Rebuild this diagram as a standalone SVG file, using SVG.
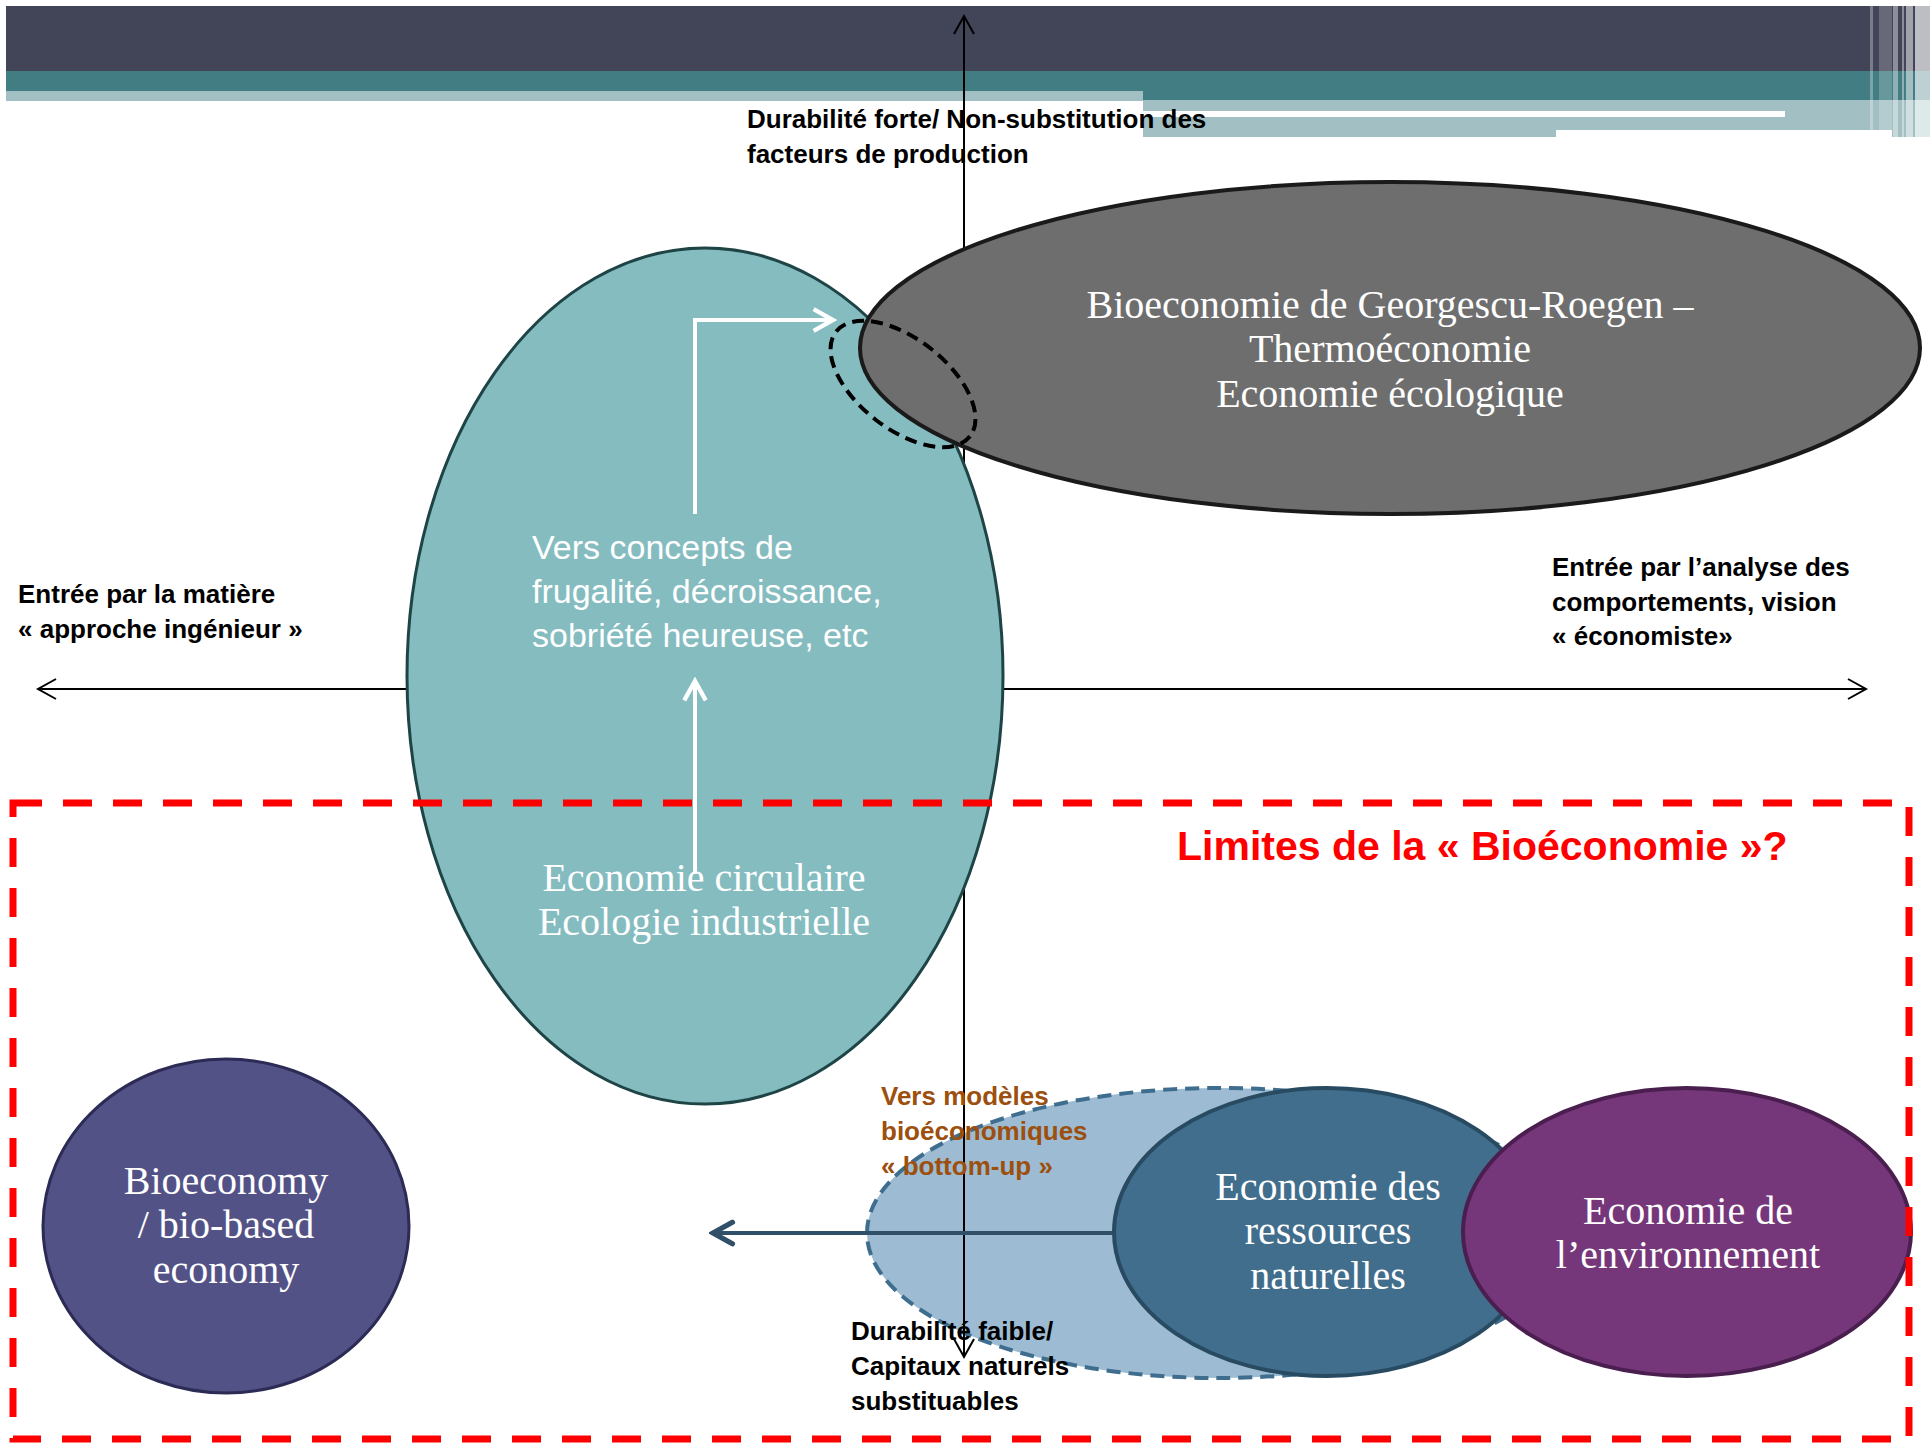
<svg xmlns="http://www.w3.org/2000/svg" width="1930" height="1445" viewBox="0 0 1930 1445">
  <defs>
    <style>
      .lbl { font-family: "Liberation Sans", Arial, sans-serif; font-weight: bold; font-size: 26px; fill: #000; }
      .brown { fill: #9C4F0E; }
      .ser { font-family: "Liberation Serif", "Times New Roman", serif; font-size: 40px; fill: #fff; text-anchor: middle; }
      .sans { font-family: "Liberation Sans", Arial, sans-serif; font-size: 34px; fill: #fff; }
      .title { font-family: "Liberation Sans", Arial, sans-serif; font-weight: bold; font-size: 41px; fill: #FF0000; }
      .axis { stroke: #000; stroke-width: 2; fill: none; }
      .wArrow { stroke: #fff; stroke-width: 4; fill: none; }
    </style>
    <marker id="openBlack" markerUnits="userSpaceOnUse" markerWidth="24" markerHeight="24" viewBox="-20 -12 22 24" refX="0" refY="0" orient="auto-start-reverse">
      <path d="M -18 -10 L 0 0 L -18 10" fill="none" stroke="#000" stroke-width="2"/>
    </marker>
    <marker id="openWhite" markerUnits="userSpaceOnUse" markerWidth="28" markerHeight="28" viewBox="-22 -13 25 26" refX="0" refY="0" orient="auto">
      <path d="M -18 -10 L 0 0 L -18 10" fill="none" stroke="#fff" stroke-width="4"/>
    </marker>
    <marker id="openBlue" markerUnits="userSpaceOnUse" markerWidth="28" markerHeight="28" viewBox="-22 -13 25 26" refX="0" refY="0" orient="auto">
      <path d="M -18 -10 L 0 0 L -18 10" fill="none" stroke="#2F5068" stroke-width="5" stroke-linecap="round"/>
    </marker>
  </defs>

  <rect width="1930" height="1445" fill="#fff"/>

  <!-- Header bands -->
  <g id="header">
    <rect x="6" y="6" width="1924" height="65" fill="#424458"/>
    <rect x="6" y="71" width="1924" height="29" fill="#437D84"/>
    <rect x="6" y="91" width="1137" height="10" fill="#A2BFC3"/>
    <rect x="1143" y="100" width="787" height="37" fill="#A2BFC3"/>
    <rect x="1143" y="111" width="642" height="6" fill="#fff"/>
    <rect x="1556" y="130" width="336" height="7" fill="#fff"/>
    <rect x="1870" y="6" width="3" height="131" fill="#fff" opacity="0.3"/>
    <rect x="1879" y="6" width="13" height="131" fill="#fff" opacity="0.2"/>
    <rect x="1893" y="6" width="5" height="131" fill="#fff" opacity="0.4"/>
    <rect x="1902" y="6" width="2" height="131" fill="#fff" opacity="0.4"/>
    <rect x="1906" y="6" width="7" height="131" fill="#fff" opacity="0.5"/>
    <rect x="1915" y="6" width="15" height="131" fill="#fff" opacity="0.65"/>
  </g>

  <!-- Light blue zone behind the natural-resources node -->
  <g id="zone-bottom-up">
    <ellipse cx="1219" cy="1233" rx="352" ry="145" fill="#9DBCD3" stroke="#3E6D8E" stroke-width="4" stroke-dasharray="14 8"/>
  </g>

  <!-- Axes and arrows -->
  <g id="connectors">
    <line class="axis" x1="964" y1="16" x2="964" y2="1357" marker-start="url(#openBlack)" marker-end="url(#openBlack)"/>
    <line class="axis" x1="38" y1="689" x2="1866" y2="689" marker-start="url(#openBlack)" marker-end="url(#openBlack)"/>
    <line x1="1114" y1="1233" x2="713" y2="1233" stroke="#2F5068" stroke-width="4" marker-end="url(#openBlue)"/>
  </g>

  <g id="node-circulaire">
    <ellipse cx="705" cy="676" rx="298" ry="428" fill="#84BCC0" stroke="#1E4446" stroke-width="3"/>
  </g>

  <g id="node-georgescu">
    <ellipse cx="1390" cy="348" rx="530" ry="166" fill="#6E6E6E" stroke="#1A1A1A" stroke-width="4"/>
    <text class="ser" x="1390" y="318">Bioeconomie de Georgescu-Roegen –</text>
    <text class="ser" x="1390" y="362">Thermoéconomie</text>
    <text class="ser" x="1390" y="407">Economie écologique</text>
  </g>

  <g id="overlap-zone">
    <ellipse cx="903" cy="384" rx="85" ry="45" transform="rotate(38 903 384)" fill="none" stroke="#000" stroke-width="4" stroke-dasharray="12 7"/>
  </g>

  <!-- White arrows inside the teal node -->
  <g id="white-arrows">
    <polyline class="wArrow" points="695,514 695,320 833,320" marker-end="url(#openWhite)"/>
    <line class="wArrow" x1="695" y1="874" x2="695" y2="681" marker-end="url(#openWhite)"/>
  </g>

  <g id="node-circulaire-text">
    <text class="sans" x="532" y="559">Vers concepts de</text>
    <text class="sans" x="532" y="603">frugalité, décroissance,</text>
    <text class="sans" x="532" y="647">sobriété heureuse, etc</text>
    <text class="ser" x="704" y="891">Economie circulaire</text>
    <text class="ser" x="704" y="935">Ecologie industrielle</text>
  </g>

  <g id="node-ressources">
    <ellipse cx="1327" cy="1232" rx="213" ry="144" fill="#416E8C" stroke="#284B62" stroke-width="4"/>
    <text class="ser" x="1328" y="1200">Economie des</text>
    <text class="ser" x="1328" y="1244">ressources</text>
    <text class="ser" x="1328" y="1289">naturelles</text>
  </g>

  <g id="node-environnement">
    <ellipse cx="1687" cy="1232" rx="224" ry="144" fill="#76367A" stroke="#4A1F50" stroke-width="4"/>
    <text class="ser" x="1688" y="1224">Economie de</text>
    <text class="ser" x="1688" y="1268">l’environnement</text>
  </g>

  <g id="node-bioeconomy">
    <ellipse cx="226" cy="1226" rx="183" ry="167" fill="#535287" stroke="#2C2B55" stroke-width="3"/>
    <text class="ser" x="226" y="1194">Bioeconomy</text>
    <text class="ser" x="226" y="1238">/ bio-based</text>
    <text class="ser" x="226" y="1283">economy</text>
  </g>

  <!-- Axis labels -->
  <g id="labels">
    <text class="lbl" x="747" y="128">Durabilité forte/ Non-substitution des</text>
    <text class="lbl" x="747" y="163">facteurs de production</text>
    <text class="lbl" x="18" y="603">Entrée par la matière</text>
    <text class="lbl" x="18" y="638">« approche ingénieur »</text>
    <text class="lbl" x="1552" y="576">Entrée par l’analyse des</text>
    <text class="lbl" x="1552" y="611">comportements, vision</text>
    <text class="lbl" x="1552" y="645">« économiste»</text>
    <text class="lbl brown" x="881" y="1105">Vers modèles</text>
    <text class="lbl brown" x="881" y="1140">bioéconomiques</text>
    <text class="lbl brown" x="881" y="1175">« bottom-up »</text>
    <text class="lbl" x="851" y="1340">Durabilité faible/</text>
    <text class="lbl" x="851" y="1375">Capitaux naturels</text>
    <text class="lbl" x="851" y="1410">substituables</text>
  </g>

  <!-- Bioeconomy limits frame -->
  <g id="limits-frame">
    <rect x="13" y="803" width="1896" height="636" fill="none" stroke="#FF0000" stroke-width="7" stroke-dasharray="29 21"/>
    <text class="title" x="1177" y="860">Limites de la « Bioéconomie »?</text>
  </g>
</svg>
